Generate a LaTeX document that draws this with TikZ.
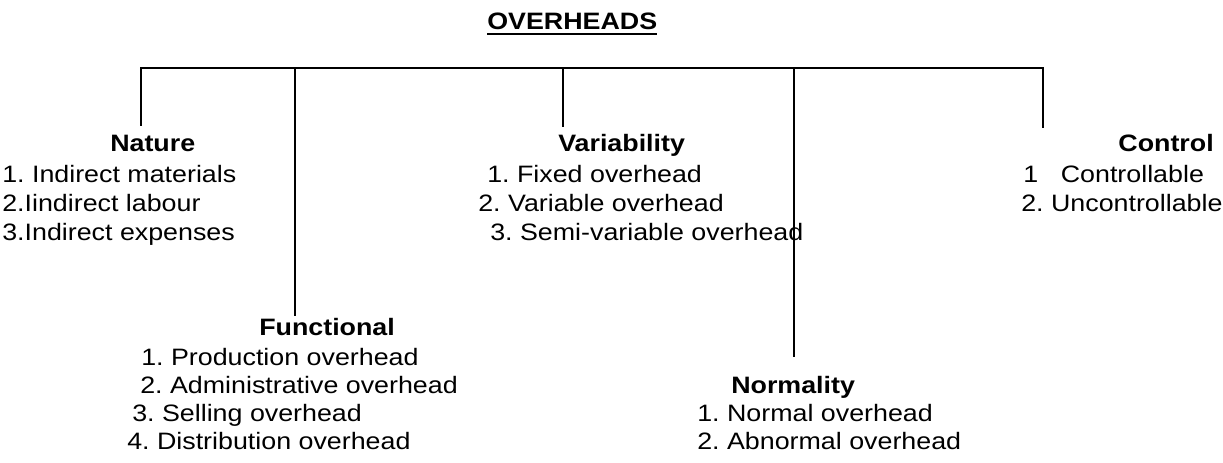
\documentclass[tikz,border=0pt]{standalone}
\usepackage{fontspec}
\setmainfont{Liberation Sans}[FakeStretch=1.13]
\frenchspacing
\begin{document}
\begin{tikzpicture}[x=0.75pt,y=-0.75pt,
  txt/.style={anchor=base west,inner sep=0pt,font=\fontsize{17.8pt}{20pt}\selectfont},
  hdr/.style={txt,font=\fontsize{17.8pt}{20pt}\selectfont\bfseries},
  conn/.style={line width=1.2pt,line cap=rect}]
\useasboundingbox (0,0) rectangle (1223,463);
% title
\node[hdr] (title) at (487,30) {OVERHEADS};
\draw[line width=1.3pt] ([yshift=-3pt]title.base west) -- ([yshift=-3pt]title.base east);
% connector coordinates
\coordinate (natTop) at (141,68);  \coordinate (natBot) at (141,125);
\coordinate (funTop) at (295,68);  \coordinate (funBot) at (295,315);
\coordinate (varTop) at (563,68);  \coordinate (varBot) at (563,126);
\coordinate (norTop) at (794,68);  \coordinate (norBot) at (794,356);
\coordinate (ctlTop) at (1043,68); \coordinate (ctlBot) at (1043,127);
\draw[conn] (natBot) -- (natTop) -- (ctlTop) -- (ctlBot);
\draw[conn] (funTop) -- (funBot);
\draw[conn] (varTop) -- (varBot);
\draw[conn] (norTop) -- (norBot);
% Nature
\node[hdr] (nat) at (110,152) {Nature};
\node[txt] (nat1) at (2,183) {1. Indirect materials};
\node[txt] (nat2) at (2,212) {2.Iindirect labour};
\node[txt] (nat3) at (2,241) {3.Indirect expenses};
% Variability
\node[hdr] (var) at (558,152) {Variability};
\node[txt] (var1) at (487,183) {1. Fixed overhead};
\node[txt] (var2) at (478,212) {2. Variable overhead};
\node[txt] (var3) at (490,241) {3. Semi-variable overhead};
% Control
\node[hdr,anchor=base east] (ctl) at (1214,152) {Control};
\node[txt] (ctl1) at (1023,183) {1\hspace{17pt}Controllable};
\node[txt] (ctl2) at (1021,212) {2. Uncontrollable};
% Functional
\node[hdr] (fun) at (259,335) {Functional};
\node[txt] (fun1) at (141,365) {1. Production overhead};
\node[txt] (fun2) at (140,393) {2. Administrative overhead};
\node[txt] (fun3) at (132,421) {3. Selling overhead};
\node[txt] (fun4) at (127,449) {4. Distribution overhead};
% Normality
\node[hdr] (nor) at (731,393) {Normality};
\node[txt] (nor1) at (697,421) {1. Normal overhead};
\node[txt] (nor2) at (697,449) {2. Abnormal overhead};
\end{tikzpicture}
\end{document}
